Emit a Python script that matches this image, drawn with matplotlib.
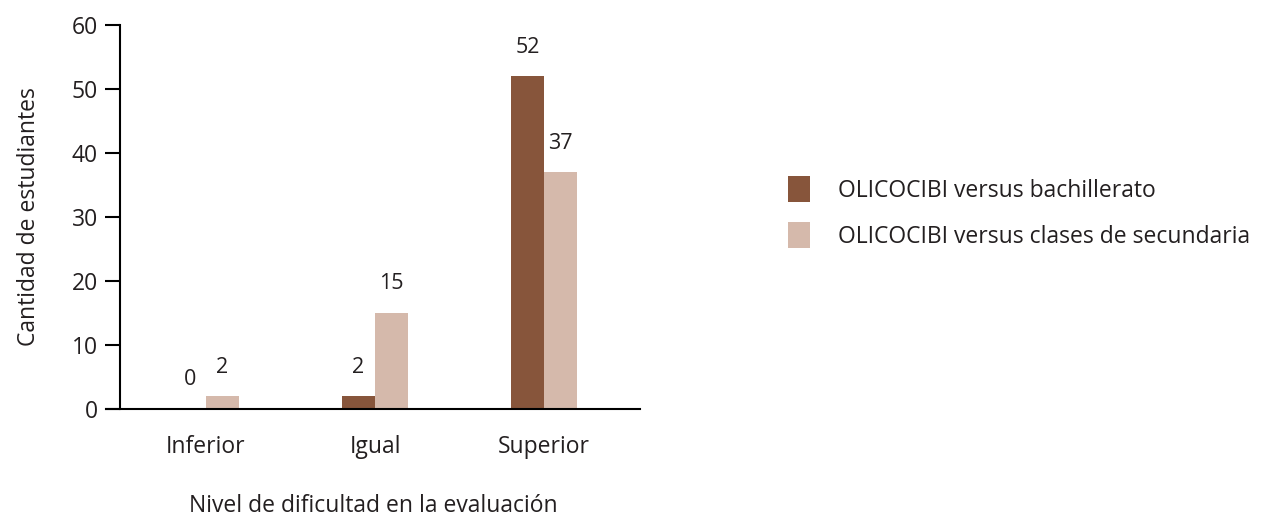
import numpy as np
from matplotlib import pyplot as plt

categories = ["Inferior", "Igual", "Superior"]
bachillerato = [0, 2, 52]
secundaria = [2, 15, 37]
series_labels = ["OLICOCIBI versus bachillerato",
                 "OLICOCIBI versus clases de secundaria"]

DARK = "#87553b"
LIGHT = "#d5b9ab"
TEXT = "#231f20"

plt.rcParams["font.family"] = ["Open Sans", "DejaVu Sans"]
plt.rcParams["text.color"] = TEXT

fig = plt.figure(figsize=(12.63, 5.18), dpi=100)
ax = fig.add_axes([106 / 1263, 1 - 409 / 518, (640 - 106) / 1263, (409 - 25) / 518])

x = np.arange(len(categories))
w = 0.195
b1 = ax.bar(x - w / 2, bachillerato, w, color=DARK, label=series_labels[0])
b2 = ax.bar(x + w / 2, secundaria, w, color=LIGHT, label=series_labels[1])

for bars, vals in ((b1, bachillerato), (b2, secundaria)):
    for r, v in zip(bars, vals):
        ax.annotate(str(v), (r.get_x() + r.get_width() / 2, v),
                    xytext=(0, 21), textcoords="offset points",
                    ha="center", va="center", fontsize=15.5, color=TEXT)

ax.set_xlim(-0.592, 2.568)
ax.set_ylim(0, 60)
ax.set_yticks(range(0, 61, 10))
ax.set_xticks(x)
ax.set_xticklabels(categories)

for s in ("top", "right"):
    ax.spines[s].set_visible(False)
ax.spines["left"].set_position(("data", -0.509))
ax.spines["left"].set_linewidth(1.5)
ax.spines["bottom"].set_linewidth(1.5)
ax.tick_params(axis="y", length=11, width=1.5, labelsize=16.5, labelcolor=TEXT, pad=5)
ax.tick_params(axis="x", length=0, labelsize=16.5, labelcolor=TEXT, pad=19)

ax.set_ylabel("Cantidad de estudiantes", fontsize=16.5, color=TEXT, labelpad=22)
ax.set_xlabel("Nivel de dificultad en la evaluación", fontsize=16.5, color=TEXT, labelpad=25)

fig.legend(handles=[b1, b2], loc="center left", bbox_to_anchor=(0.6075, 0.59),
           frameon=False, fontsize=16.5, handlelength=0.95, handleheight=1.35,
           handletextpad=1.25, labelspacing=0.85)

fig.savefig("out.png", dpi=100)
